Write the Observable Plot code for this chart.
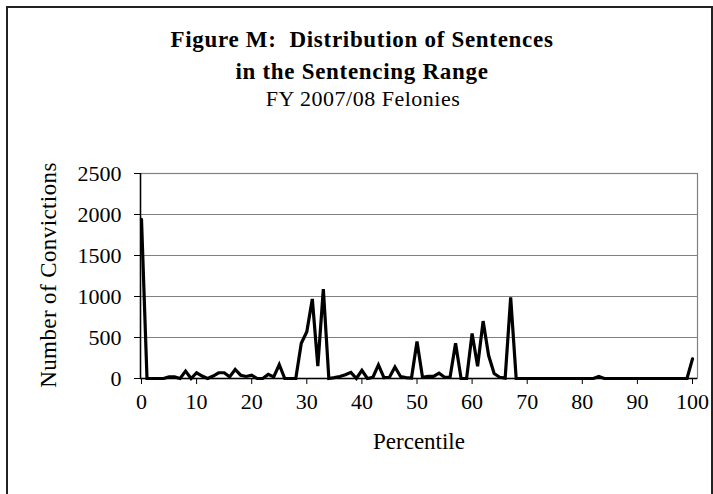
<!DOCTYPE html>
<html>
<head>
<meta charset="utf-8">
<script src="https://cdn.jsdelivr.net/npm/d3@7"></script>
<script src="https://cdn.jsdelivr.net/npm/@observablehq/plot@0.6"></script>
<style>
  html, body { margin: 0; padding: 0; background: #fff; }
  #wrap { position: relative; width: 713px; height: 494px; overflow: hidden; background: #fff; }
  #border { position: absolute; left: 6px; top: 6px; width: 703px; height: 600px;
            border-left: 2px solid #222; border-top: 2px solid #222; border-right: 2px solid #222; }
  #wrap svg { position: absolute; left: 0; top: 0; }
  .ttl text { letter-spacing: 0.7px; }
  .sub text { letter-spacing: 0.5px; }
  .ylab text { letter-spacing: 0.4px; }
</style>
</head>
<body>
<div id="wrap"><div id="border"></div></div>
<script>
const percentile = [0,1,2,3,4,5,6,7,8,9,10,11,12,13,14,15,16,17,18,19,20,
  21,22,23,24,25,26,27,28,29,30,31,32,33,34,35,36,37,38,39,40,
  41,42,43,44,45,46,47,48,49,50,51,52,53,54,55,56,57,58,59,60,
  61,62,63,64,65,66,67,68,69,70,71,72,73,74,75,76,77,78,79,80,
  81,82,83,84,85,86,87,88,89,90,91,92,93,94,95,96,97,98,99,100];
const convictions = [1940,0,0,0,0,20,20,0,90,0,70,30,0,30,70,70,20,110,40,25,40,
  0,0,50,20,170,0,0,0,430,570,970,150,1090,0,10,25,45,75,0,100,
  0,15,165,10,15,140,25,10,5,450,15,25,25,65,15,15,430,0,0,550,
  150,700,280,60,15,5,990,0,0,0,0,0,0,0,0,0,0,0,0,0,
  0,0,25,0,0,0,0,0,0,0,0,0,0,0,0,0,0,0,0,240];
const xTicks = [0,10,20,30,40,50,60,70,80,90,100];
const yTicks = [0,500,1000,1500,2000,2500];
const titleLines = ["Figure M:  Distribution of Sentences", "in the Sentencing Range"];
const subtitle = "FY 2007/08 Felonies";
const xLabel = "Percentile";
const yLabel = "Number of Convictions";

const data = percentile.map((p, i) => ({p, n: convictions[i]}));
const font = "'Liberation Serif', 'Times New Roman', serif";

const chart = Plot.plot({
  width: 713,
  height: 494,
  marginTop: 173,
  marginBottom: 116,
  marginLeft: 140,
  marginRight: 16,
  style: {fontFamily: font, fontSize: "22px", background: "transparent", color: "#000"},
  x: {domain: [0, 100], range: [141, 692]},
  y: {domain: [0, 2500], range: [378, 173]},
  marks: [
    Plot.frame({stroke: "#808080", strokeWidth: 1.2}),
    Plot.ruleY(yTicks.filter(d => d > 0), {stroke: "#808080", strokeWidth: 1.2}),
    Plot.axisY(yTicks, {tickSize: 6, tickPadding: 13, fontSize: 22, label: null, stroke: "#000", tickFormat: d3.format("d")}),
    Plot.axisX(xTicks, {tickSize: 6, tickPadding: 9, fontSize: 22, label: null, stroke: "#000", tickFormat: d3.format("d")}),
    Plot.ruleX([0], {stroke: "#000", strokeWidth: 1.5, dx: -1}),
    Plot.ruleY([0], {stroke: "#000", strokeWidth: 1.5}),
    Plot.line(data, {x: "p", y: "n", stroke: "#000", strokeWidth: 3.2, strokeLinejoin: "miter", strokeMiterlimit: 4}),
    Plot.text([titleLines[0]], {frameAnchor: "top", dx: -57, dy: -127, lineAnchor: "bottom", textAnchor: "middle", fontWeight: "bold", fontSize: 23, text: d => d, className: "ttl"}),
    Plot.text([titleLines[1]], {frameAnchor: "top", dx: -57, dy: -95, lineAnchor: "bottom", textAnchor: "middle", fontWeight: "bold", fontSize: 23, text: d => d, className: "ttl"}),
    Plot.text([subtitle], {frameAnchor: "top", dx: -56, dy: -68, lineAnchor: "bottom", textAnchor: "middle", fontSize: 22, text: d => d, className: "sub"}),
    Plot.text([xLabel], {frameAnchor: "bottom", dx: 0, dy: 70, lineAnchor: "bottom", textAnchor: "middle", fontSize: 23, text: d => d}),
    Plot.text([yLabel], {frameAnchor: "left", dx: -92, dy: -1, rotate: -90, lineAnchor: "middle", textAnchor: "middle", fontSize: 23, text: d => d, className: "ylab"})
  ]
});
document.getElementById("wrap").appendChild(chart);
</script>
</body>
</html>
